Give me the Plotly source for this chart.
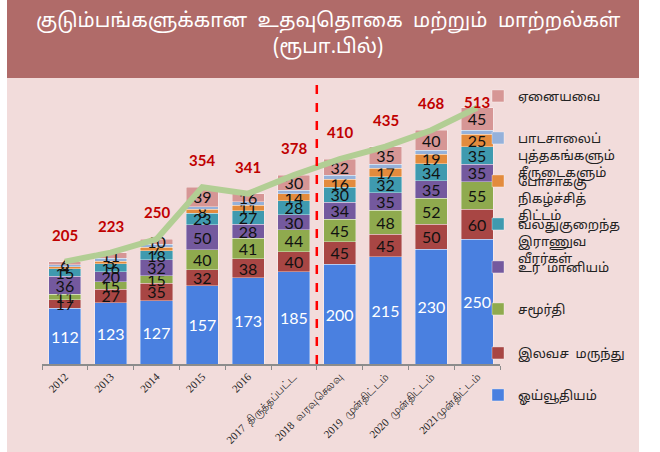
import plotly.graph_objects as go

categories = ["2012", "2013", "2014", "2015", "2016",
              "2017  திருத்தப்பட்ட", "2018  வரவுசெலவு", "2019  முன்திட்டம்",
              "2020  முன்திட்டம்", "2021முன்திட்டம்"]

pension = [112, 123, 127, 157, 173, 185, 200, 215, 230, 250]
free_medicine = [17, 27, 35, 32, 38, 40, 45, 45, 50, 60]
samurdhi = [11, 15, 15, 40, 41, 44, 45, 48, 52, 55]
fertilizer = [36, 20, 32, 50, 28, 30, 34, 35, 35, 35]
disabled_soldiers = [15, 16, 18, 23, 27, 28, 30, 32, 34, 35]
nutrition = [4, 5, 7, 8, 11, 14, 16, 17, 19, 25]
school_books = [4, 6, 6, 5, 7, 7, 8, 8, 8, 8]
others = [6, 11, 10, 39, 16, 30, 32, 35, 40, 45]
totals = [205, 223, 250, 354, 341, 378, 410, 435, 468, 513]

series_names = ["ஓய்வூதியம்", "இலவச  மருந்து", "சமூர்தி", "உர  மானியம்",
                "வலதுகுறைந்த<br>இராணுவ<br>வீரர்கள்",
                "போசாக்கு<br>நிகழ்ச்சித்<br>திட்டம்",
                "பாடசாலைப்<br>புத்தகங்களும்<br>சீருடைகளும்",
                "ஏனையவை"]
series_values = [pension, free_medicine, samurdhi, fertilizer,
                 disabled_soldiers, nutrition, school_books, others]
colors = ["#4A80E0", "#A84644", "#8FAA4E", "#74599E",
          "#3F9AAF", "#E38B3D", "#95B1DA", "#D69695"]
show_labels = [True, True, True, True, True, True, False, True]

title_text = "குடும்பங்களுக்கான  உதவுதொகை  மற்றும்  மாற்றல்கள்<br>(ரூபா.பில்)"

W, H = 660, 452
L, R, T, B = 42, 160, 80, 88
PW, PH = W - L - R, H - T - B
YMAX = 568.5


def px_x(px):
    return (px - L) / PW


def px_y(py):
    return (H - B - py) / PH


TAMIL = "Noto Sans Tamil, Lohit Tamil, Latha, Noto Sans, sans-serif"

fig = go.Figure()

legend_marker_y = [394, 352, 308, 266, 223, 180, 137, 95]

for i, (name, vals, col, lab) in enumerate(zip(series_names, series_values, colors, show_labels)):
    lg = "legend" if i == 0 else f"legend{i+1}"
    fig.add_trace(go.Bar(
        x=categories, y=vals, name=name,
        marker=dict(color=col, line=dict(color="rgba(255,255,255,0.45)", width=0.8)),
        texttemplate="%{y}" if lab else None,
        textposition="inside" if lab else "none",
        insidetextanchor="middle",
        textangle=0,
        constraintext="none",
        insidetextfont=dict(family="Lato, Open Sans, sans-serif", size=16,
                            color="white" if i == 0 else "#111111"),
        legend=lg,
        hoverinfo="x+y+name",
    ))

fig.add_trace(go.Scatter(
    x=categories, y=totals, mode="lines",
    line=dict(color="#B2CE94", width=6),
    showlegend=False, hoverinfo="y",
))

for idx, t in enumerate(totals):
    top_px = PH * t / YMAX
    shift = min(27, PH - top_px - 22)
    fig.add_annotation(x=idx, y=t, xref="x", yref="y", text=f"<b>{t}</b>",
                       showarrow=False, yshift=shift,
                       font=dict(family="Lato, Open Sans, sans-serif", size=15, color="#C00000"))

fig.add_annotation(x=px_x(328), y=px_y(35), xref="paper", yref="paper",
                   text=title_text, showarrow=False, xanchor="center", yanchor="middle",
                   font=dict(family=TAMIL, size=20, color="white"))

shapes = [
    dict(type="rect", xref="paper", yref="paper", x0=px_x(7), x1=px_x(639),
         y0=px_y(452), y1=px_y(78), fillcolor="#F2DCDB", line=dict(width=0), layer="below"),
    dict(type="rect", xref="paper", yref="paper", x0=px_x(7), x1=px_x(639),
         y0=px_y(78), y1=px_y(0), fillcolor="#B06B69", line=dict(width=0), layer="below"),
    dict(type="line", xref="x", yref="paper", x0=5.5, x1=5.5, y0=0, y1=1,
         line=dict(color="#FF0000", width=2.5, dash="dash")),
]

legend_layout = {}
for i, my in enumerate(legend_marker_y):
    key = "legend" if i == 0 else f"legend{i+1}"
    legend_layout[key] = dict(
        x=px_x(478), y=px_y(my - 14), xanchor="left", yanchor="top",
        bgcolor="rgba(0,0,0,0)", borderwidth=0, valign="top",
        font=dict(family=TAMIL, size=13, color="#222222"),
        itemclick=False, itemdoubleclick=False,
    )

fig.update_layout(
    width=W, height=H,
    margin=dict(l=L, r=R, t=T, b=B, autoexpand=False),
    paper_bgcolor="white", plot_bgcolor="rgba(0,0,0,0)",
    barmode="stack", bargap=0.30,
    shapes=shapes,
    showlegend=True,
    uniformtext=dict(mode="show", minsize=15),
    xaxis=dict(type="category", range=[-0.5, 9.5], showline=True, linecolor="#8C8C8C", linewidth=2,
               ticks="outside", tickson="boundaries", ticklen=4, tickcolor="#8C8C8C",
               tickangle=-45, showgrid=False,
               tickfont=dict(family="Liberation Serif, DejaVu Serif, serif", size=11, color="#222222")),
    yaxis=dict(range=[0, YMAX], visible=False, showgrid=False),
    **legend_layout,
)

fig.write_html("out.html",
               config={"displayModeBar": False},
               post_script="document.body.style.margin='0';document.body.style.overflow='hidden';")
